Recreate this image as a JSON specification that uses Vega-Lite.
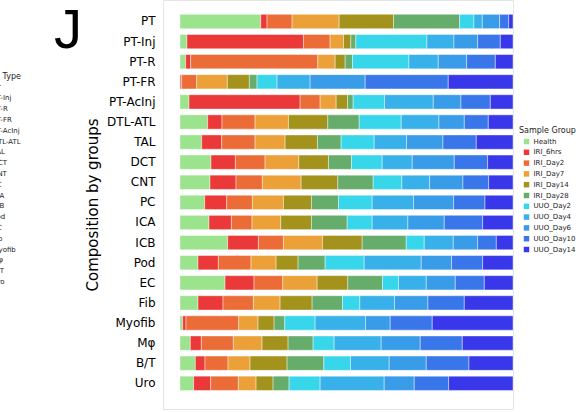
{
  "$schema": "https://vega.github.io/schema/vega-lite/v6.json",
  "width": 350,
  "height": 409,
  "autosize": {"type": "none"},
  "padding": {"left": 163, "top": 0, "right": 68, "bottom": 3},
  "background": "white",
  "title": {"text": "J", "fontSize": 56, "font": "Liberation Sans", "fontWeight": "normal", "color": "black", "anchor": "start", "frame": "group", "orient": "top", "offset": 0, "dx": -109, "dy": 104, "baseline": "alphabetic"},
  "config": {"view": {"stroke": "#e5e5e5"}, "font": "DejaVu Sans"},
  "data": {"values": [
    {"type":"PT","group":"Health","share":24.2},{"type":"PT","group":"IRI_6hrs","share":1.9},{"type":"PT","group":"IRI_Day2","share":7.5},{"type":"PT","group":"IRI_Day7","share":14.1},{"type":"PT","group":"IRI_Day14","share":16.3},{"type":"PT","group":"IRI_Day28","share":19.8},{"type":"PT","group":"UUO_Day2","share":4.3},{"type":"PT","group":"UUO_Day4","share":2.5},{"type":"PT","group":"UUO_Day6","share":5.2},{"type":"PT","group":"UUO_Day10","share":2.7},{"type":"PT","group":"UUO_Day14","share":1.3},
    {"type":"PT-Inj","group":"Health","share":2.1},{"type":"PT-Inj","group":"IRI_6hrs","share":34.9},{"type":"PT-Inj","group":"IRI_Day2","share":8.0},{"type":"PT-Inj","group":"IRI_Day7","share":4.0},{"type":"PT-Inj","group":"IRI_Day14","share":2.2},{"type":"PT-Inj","group":"IRI_Day28","share":1.5},{"type":"PT-Inj","group":"UUO_Day2","share":21.3},{"type":"PT-Inj","group":"UUO_Day4","share":8.1},{"type":"PT-Inj","group":"UUO_Day6","share":7.1},{"type":"PT-Inj","group":"UUO_Day10","share":6.8},{"type":"PT-Inj","group":"UUO_Day14","share":3.8},
    {"type":"PT-R","group":"Health","share":1.7},{"type":"PT-R","group":"IRI_6hrs","share":1.5},{"type":"PT-R","group":"IRI_Day2","share":38.1},{"type":"PT-R","group":"IRI_Day7","share":5.2},{"type":"PT-R","group":"IRI_Day14","share":3.0},{"type":"PT-R","group":"IRI_Day28","share":2.2},{"type":"PT-R","group":"UUO_Day2","share":16.9},{"type":"PT-R","group":"UUO_Day4","share":8.8},{"type":"PT-R","group":"UUO_Day6","share":8.5},{"type":"PT-R","group":"UUO_Day10","share":8.6},{"type":"PT-R","group":"UUO_Day14","share":5.3},
    {"type":"PT-FR","group":"Health","share":0.05},{"type":"PT-FR","group":"IRI_6hrs","share":0.45},{"type":"PT-FR","group":"IRI_Day2","share":4.5},{"type":"PT-FR","group":"IRI_Day7","share":9.2},{"type":"PT-FR","group":"IRI_Day14","share":6.6},{"type":"PT-FR","group":"IRI_Day28","share":2.3},{"type":"PT-FR","group":"UUO_Day2","share":6.0},{"type":"PT-FR","group":"UUO_Day4","share":9.9},{"type":"PT-FR","group":"UUO_Day6","share":16.5},{"type":"PT-FR","group":"UUO_Day10","share":24.9},{"type":"PT-FR","group":"UUO_Day14","share":19.4},
    {"type":"PT-AcInj","group":"Health","share":2.7},{"type":"PT-AcInj","group":"IRI_6hrs","share":33.3},{"type":"PT-AcInj","group":"IRI_Day2","share":6.0},{"type":"PT-AcInj","group":"IRI_Day7","share":4.8},{"type":"PT-AcInj","group":"IRI_Day14","share":3.4},{"type":"PT-AcInj","group":"IRI_Day28","share":1.7},{"type":"PT-AcInj","group":"UUO_Day2","share":9.4},{"type":"PT-AcInj","group":"UUO_Day4","share":14.6},{"type":"PT-AcInj","group":"UUO_Day6","share":8.3},{"type":"PT-AcInj","group":"UUO_Day10","share":8.8},{"type":"PT-AcInj","group":"UUO_Day14","share":6.8},
    {"type":"DTL-ATL","group":"Health","share":8.3},{"type":"DTL-ATL","group":"IRI_6hrs","share":4.3},{"type":"DTL-ATL","group":"IRI_Day2","share":9.9},{"type":"DTL-ATL","group":"IRI_Day7","share":10.0},{"type":"DTL-ATL","group":"IRI_Day14","share":11.8},{"type":"DTL-ATL","group":"IRI_Day28","share":9.4},{"type":"DTL-ATL","group":"UUO_Day2","share":12.6},{"type":"DTL-ATL","group":"UUO_Day4","share":11.3},{"type":"DTL-ATL","group":"UUO_Day6","share":7.6},{"type":"DTL-ATL","group":"UUO_Day10","share":7.2},{"type":"DTL-ATL","group":"UUO_Day14","share":7.4},
    {"type":"TAL","group":"Health","share":6.5},{"type":"TAL","group":"IRI_6hrs","share":6.0},{"type":"TAL","group":"IRI_Day2","share":10.0},{"type":"TAL","group":"IRI_Day7","share":9.0},{"type":"TAL","group":"IRI_Day14","share":9.7},{"type":"TAL","group":"IRI_Day28","share":7.1},{"type":"TAL","group":"UUO_Day2","share":9.9},{"type":"TAL","group":"UUO_Day4","share":9.7},{"type":"TAL","group":"UUO_Day6","share":10.9},{"type":"TAL","group":"UUO_Day10","share":10.0},{"type":"TAL","group":"UUO_Day14","share":11.0},
    {"type":"DCT","group":"Health","share":9.3},{"type":"DCT","group":"IRI_6hrs","share":7.3},{"type":"DCT","group":"IRI_Day2","share":8.9},{"type":"DCT","group":"IRI_Day7","share":10.1},{"type":"DCT","group":"IRI_Day14","share":8.9},{"type":"DCT","group":"IRI_Day28","share":6.9},{"type":"DCT","group":"UUO_Day2","share":9.2},{"type":"DCT","group":"UUO_Day4","share":9.0},{"type":"DCT","group":"UUO_Day6","share":12.6},{"type":"DCT","group":"UUO_Day10","share":10.0},{"type":"DCT","group":"UUO_Day14","share":7.6},
    {"type":"CNT","group":"Health","share":9.0},{"type":"CNT","group":"IRI_6hrs","share":7.8},{"type":"CNT","group":"IRI_Day2","share":7.9},{"type":"CNT","group":"IRI_Day7","share":11.6},{"type":"CNT","group":"IRI_Day14","share":11.0},{"type":"CNT","group":"IRI_Day28","share":10.6},{"type":"CNT","group":"UUO_Day2","share":8.6},{"type":"CNT","group":"UUO_Day4","share":8.3},{"type":"CNT","group":"UUO_Day6","share":10.0},{"type":"CNT","group":"UUO_Day10","share":7.7},{"type":"CNT","group":"UUO_Day14","share":7.3},
    {"type":"PC","group":"Health","share":7.4},{"type":"PC","group":"IRI_6hrs","share":6.6},{"type":"PC","group":"IRI_Day2","share":7.7},{"type":"PC","group":"IRI_Day7","share":9.3},{"type":"PC","group":"IRI_Day14","share":8.4},{"type":"PC","group":"IRI_Day28","share":8.1},{"type":"PC","group":"UUO_Day2","share":10.1},{"type":"PC","group":"UUO_Day4","share":12.4},{"type":"PC","group":"UUO_Day6","share":12.0},{"type":"PC","group":"UUO_Day10","share":9.4},{"type":"PC","group":"UUO_Day14","share":8.4},
    {"type":"ICA","group":"Health","share":8.7},{"type":"ICA","group":"IRI_6hrs","share":6.7},{"type":"ICA","group":"IRI_Day2","share":6.2},{"type":"ICA","group":"IRI_Day7","share":8.6},{"type":"ICA","group":"IRI_Day14","share":9.2},{"type":"ICA","group":"IRI_Day28","share":10.7},{"type":"ICA","group":"UUO_Day2","share":7.5},{"type":"ICA","group":"UUO_Day4","share":10.7},{"type":"ICA","group":"UUO_Day6","share":10.9},{"type":"ICA","group":"UUO_Day10","share":11.5},{"type":"ICA","group":"UUO_Day14","share":9.1},
    {"type":"ICB","group":"Health","share":14.3},{"type":"ICB","group":"IRI_6hrs","share":9.2},{"type":"ICB","group":"IRI_Day2","share":7.5},{"type":"ICB","group":"IRI_Day7","share":11.7},{"type":"ICB","group":"IRI_Day14","share":11.9},{"type":"ICB","group":"IRI_Day28","share":13.2},{"type":"ICB","group":"UUO_Day2","share":5.4},{"type":"ICB","group":"UUO_Day4","share":8.7},{"type":"ICB","group":"UUO_Day6","share":7.3},{"type":"ICB","group":"UUO_Day10","share":5.6},{"type":"ICB","group":"UUO_Day14","share":5.0},
    {"type":"Pod","group":"Health","share":5.4},{"type":"Pod","group":"IRI_6hrs","share":6.1},{"type":"Pod","group":"IRI_Day2","share":9.8},{"type":"Pod","group":"IRI_Day7","share":7.5},{"type":"Pod","group":"IRI_Day14","share":6.6},{"type":"Pod","group":"IRI_Day28","share":8.1},{"type":"Pod","group":"UUO_Day2","share":11.7},{"type":"Pod","group":"UUO_Day4","share":17.1},{"type":"Pod","group":"UUO_Day6","share":9.1},{"type":"Pod","group":"UUO_Day10","share":9.3},{"type":"Pod","group":"UUO_Day14","share":9.1},
    {"type":"EC","group":"Health","share":13.5},{"type":"EC","group":"IRI_6hrs","share":8.7},{"type":"EC","group":"IRI_Day2","share":8.6},{"type":"EC","group":"IRI_Day7","share":10.3},{"type":"EC","group":"IRI_Day14","share":9.2},{"type":"EC","group":"IRI_Day28","share":10.4},{"type":"EC","group":"UUO_Day2","share":4.8},{"type":"EC","group":"UUO_Day4","share":8.3},{"type":"EC","group":"UUO_Day6","share":8.7},{"type":"EC","group":"UUO_Day10","share":8.7},{"type":"EC","group":"UUO_Day14","share":8.6},
    {"type":"Fib","group":"Health","share":5.4},{"type":"Fib","group":"IRI_6hrs","share":7.5},{"type":"Fib","group":"IRI_Day2","share":9.1},{"type":"Fib","group":"IRI_Day7","share":8.0},{"type":"Fib","group":"IRI_Day14","share":9.6},{"type":"Fib","group":"IRI_Day28","share":9.1},{"type":"Fib","group":"UUO_Day2","share":5.2},{"type":"Fib","group":"UUO_Day4","share":10.4},{"type":"Fib","group":"UUO_Day6","share":10.0},{"type":"Fib","group":"UUO_Day10","share":10.9},{"type":"Fib","group":"UUO_Day14","share":14.6},
    {"type":"Myofib","group":"Health","share":0.8},{"type":"Myofib","group":"IRI_6hrs","share":1.0},{"type":"Myofib","group":"IRI_Day2","share":15.8},{"type":"Myofib","group":"IRI_Day7","share":5.8},{"type":"Myofib","group":"IRI_Day14","share":4.8},{"type":"Myofib","group":"IRI_Day28","share":3.2},{"type":"Myofib","group":"UUO_Day2","share":9.1},{"type":"Myofib","group":"UUO_Day4","share":15.1},{"type":"Myofib","group":"UUO_Day6","share":7.4},{"type":"Myofib","group":"UUO_Day10","share":12.6},{"type":"Myofib","group":"UUO_Day14","share":24.2},
    {"type":"Mφ","group":"Health","share":3.1},{"type":"Mφ","group":"IRI_6hrs","share":3.3},{"type":"Mφ","group":"IRI_Day2","share":9.6},{"type":"Mφ","group":"IRI_Day7","share":8.6},{"type":"Mφ","group":"IRI_Day14","share":7.8},{"type":"Mφ","group":"IRI_Day28","share":7.5},{"type":"Mφ","group":"UUO_Day2","share":6.3},{"type":"Mφ","group":"UUO_Day4","share":14.1},{"type":"Mφ","group":"UUO_Day6","share":11.7},{"type":"Mφ","group":"UUO_Day10","share":12.6},{"type":"Mφ","group":"UUO_Day14","share":15.2},
    {"type":"B/T","group":"Health","share":4.6},{"type":"B/T","group":"IRI_6hrs","share":2.9},{"type":"B/T","group":"IRI_Day2","share":6.9},{"type":"B/T","group":"IRI_Day7","share":6.6},{"type":"B/T","group":"IRI_Day14","share":11.1},{"type":"B/T","group":"IRI_Day28","share":11.0},{"type":"B/T","group":"UUO_Day2","share":8.0},{"type":"B/T","group":"UUO_Day4","share":11.6},{"type":"B/T","group":"UUO_Day6","share":11.1},{"type":"B/T","group":"UUO_Day10","share":12.8},{"type":"B/T","group":"UUO_Day14","share":13.2},
    {"type":"Uro","group":"Health","share":4.1},{"type":"Uro","group":"IRI_6hrs","share":5.1},{"type":"Uro","group":"IRI_Day2","share":8.3},{"type":"Uro","group":"IRI_Day7","share":5.3},{"type":"Uro","group":"IRI_Day14","share":5.1},{"type":"Uro","group":"IRI_Day28","share":4.8},{"type":"Uro","group":"UUO_Day2","share":9.3},{"type":"Uro","group":"UUO_Day4","share":19.2},{"type":"Uro","group":"UUO_Day6","share":9.0},{"type":"Uro","group":"UUO_Day10","share":10.3},{"type":"Uro","group":"UUO_Day14","share":19.3}
  ]},
  "transform": [
    {"lookup": "group", "from": {"data": {"values": [
      {"group":"Health","k":0},{"group":"IRI_6hrs","k":1},{"group":"IRI_Day2","k":2},{"group":"IRI_Day7","k":3},{"group":"IRI_Day14","k":4},{"group":"IRI_Day28","k":5},{"group":"UUO_Day2","k":6},{"group":"UUO_Day4","k":7},{"group":"UUO_Day6","k":8},{"group":"UUO_Day10","k":9},{"group":"UUO_Day14","k":10}
    ]}, "key": "group", "fields": ["k"]}}
  ],
  "layer": [
    {
      "mark": {"type": "bar", "stroke": "white", "strokeWidth": 0.6, "strokeOpacity": 0.7},
      "encoding": {
        "y": {"field": "type", "type": "nominal",
          "sort": ["PT","PT-Inj","PT-R","PT-FR","PT-AcInj","DTL-ATL","TAL","DCT","CNT","PC","ICA","ICB","Pod","EC","Fib","Myofib","Mφ","B/T","Uro"],
          "scale": {"paddingInner": 0.289, "paddingOuter": 0.818, "align": 0.436},
          "axis": {"title": "Composition by groups", "titleFontSize": 15, "titleFontWeight": "normal", "titleColor": "black", "titlePadding": 6, "titleFont": "DejaVu Sans",
                   "labelFontSize": 12, "labelColor": "black", "labelFont": "DejaVu Sans", "labelPadding": 8, "ticks": false, "tickSize": 0, "domain": false, "grid": false}},
        "x": {"field": "share", "type": "quantitative", "stack": "normalize", "scale": {"domain": [-0.051, 1], "nice": false, "zero": false}, "axis": null},
        "color": {"field": "group", "type": "nominal",
          "scale": {"domain": ["Health","IRI_6hrs","IRI_Day2","IRI_Day7","IRI_Day14","IRI_Day28","UUO_Day2","UUO_Day4","UUO_Day6","UUO_Day10","UUO_Day14"],
                    "range": ["#9be38c","#eb3838","#ec6c38","#eca038","#a3921c","#66ac6a","#38d6ea","#38b0ea","#389ce8","#3876ea","#3838ea"]},
          "legend": {"title": "Sample Group", "orient": "none", "legendX": 356, "legendY": 127, "padding": 0,
                     "titleFontSize": 8, "titleFontWeight": "normal", "titleColor": "#222", "titleFont": "DejaVu Sans", "titlePadding": 3,
                     "labelFontSize": 7, "labelColor": "#222", "labelFont": "DejaVu Sans", "labelOffset": 3.5,
                     "symbolType": "square", "symbolSize": 30, "symbolStrokeWidth": 0, "symbolOffset": 4, "rowPadding": 2.8}},
        "order": {"field": "k", "type": "quantitative", "sort": "ascending"}
      }
    },
    {
      "mark": {"type": "point", "filled": true, "opacity": 0},
      "encoding": {
        "y": {"field": "type", "type": "nominal",
          "sort": ["PT","PT-Inj","PT-R","PT-FR","PT-AcInj","DTL-ATL","TAL","DCT","CNT","PC","ICA","ICB","Pod","EC","Fib","Myofib","Mφ","B/T","Uro"]},
        "fill": {"field": "type", "type": "nominal",
          "scale": {"domain": ["PT","PT-Inj","PT-R","PT-FR","PT-AcInj","DTL-ATL","TAL","DCT","CNT","PC","ICA","ICB","Pod","EC","Fib","Myofib","Mφ","B/T","Uro"], "scheme": "tableau20"},
          "legend": {"title": "Cell Type", "orient": "none", "legendX": -185, "legendY": 73, "padding": 0, "titleAnchor": "end",
                     "titleFontSize": 8, "titleFontWeight": "normal", "titleColor": "#222", "titleFont": "DejaVu Sans", "titlePadding": 3,
                     "labelFontSize": 7, "labelColor": "#222", "labelFont": "DejaVu Sans", "labelOffset": 3.5,
                     "symbolType": "square", "symbolSize": 30, "symbolStrokeWidth": 0, "symbolOffset": 4, "symbolOpacity": 1, "rowPadding": 2.8}}
      }
    }
  ]
}
